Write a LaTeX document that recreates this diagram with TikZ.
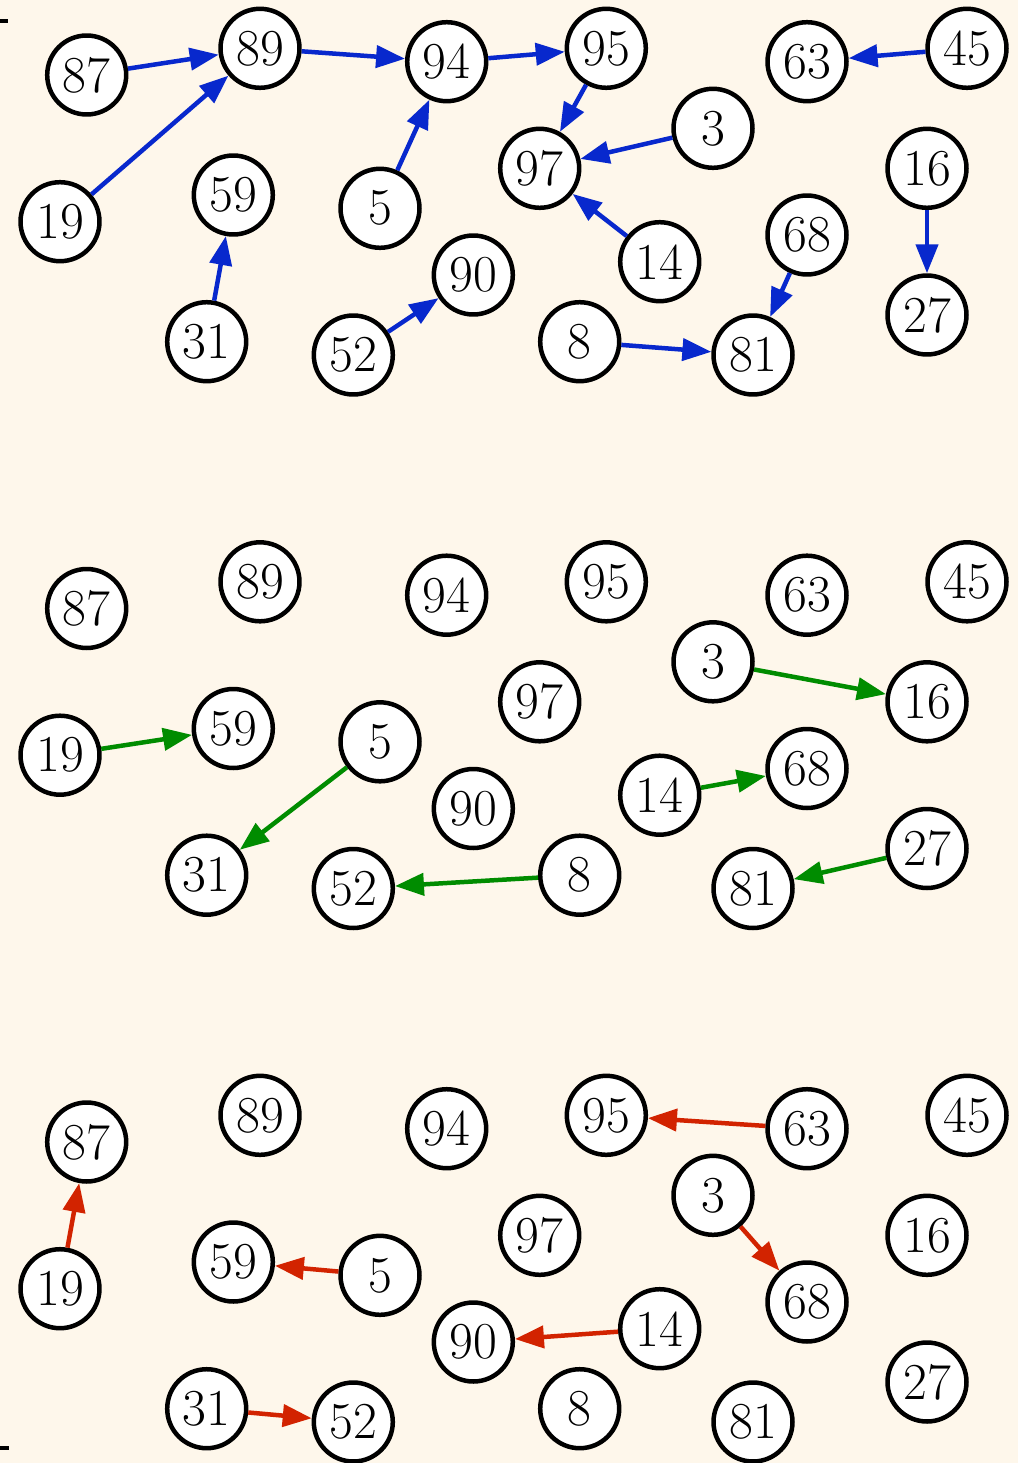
\documentclass[tikz,border=0pt]{standalone}
\usetikzlibrary{arrows.meta}
\definecolor{bgcol}{RGB}{254,247,235}
\definecolor{eblue}{RGB}{8,40,205}
\definecolor{egreen}{RGB}{0,140,0}
\definecolor{ered}{RGB}{210,35,0}
\tikzset{
  vtx/.style={circle,draw=black,fill=white,line width=0.09cm,minimum size=1.58cm,inner sep=0pt,font=\fontsize{29.5}{30}\selectfont},
  edgeb/.style={line width=0.09cm,-{Triangle[length=0.58cm,width=0.44cm]}},
  blueedge/.style={edgeb,draw=eblue,fill=eblue},
  greenedge/.style={edgeb,draw=egreen,fill=egreen},
  rededge/.style={edgeb,draw=ered,fill=ered},
  tick/.style={line width=0.08cm,draw=black}
}
\begin{document}
\begin{tikzpicture}[x=0.02cm,y=-0.02cm]
\fill[bgcol] (0,0) rectangle (1018,1463);
\useasboundingbox (0,0) rectangle (1018,1463);
\coordinate (ta) at (0,21); \coordinate (tb) at (8,21);
\coordinate (ba) at (0,1448); \coordinate (bb) at (9,1448);
\draw[tick] (ta) -- (tb);
\draw[tick] (ba) -- (bb);
\foreach \p/\off in {1/0,2/533.5,3/1067}{
  \foreach \l/\x/\y in {87/86.7/75, 89/260/48.3, 94/446.7/61.7, 95/606.3/48.3, 63/807/61.7, 45/967/48.3, 19/60/221.7, 59/233.3/195, 5/380/208.3, 97/539.7/168.3, 3/713/128.3, 16/927/168.3, 14/659.7/261.7, 68/807/235, 90/473.3/275, 31/206.7/341.7, 52/353.3/355, 8/579.7/341.7, 81/753/355, 27/927/315}{
    \node[vtx] (n\p-\l) at (\x,\y+\off) {\l};
  }
}
\foreach \a/\b in {87/89,19/89,89/94,94/95,5/94,95/97,3/97,14/97,45/63,16/27,31/59,52/90,68/81,8/81}{
  \draw[blueedge] (n1-\a) -- (n1-\b);
}
\foreach \a/\b in {19/59,5/31,8/52,3/16,14/68,27/81}{
  \draw[greenedge] (n2-\a) -- (n2-\b);
}
\foreach \a/\b in {19/87,5/59,31/52,63/95,3/68,14/90}{
  \draw[rededge] (n3-\a) -- (n3-\b);
}
\end{tikzpicture}
\end{document}
